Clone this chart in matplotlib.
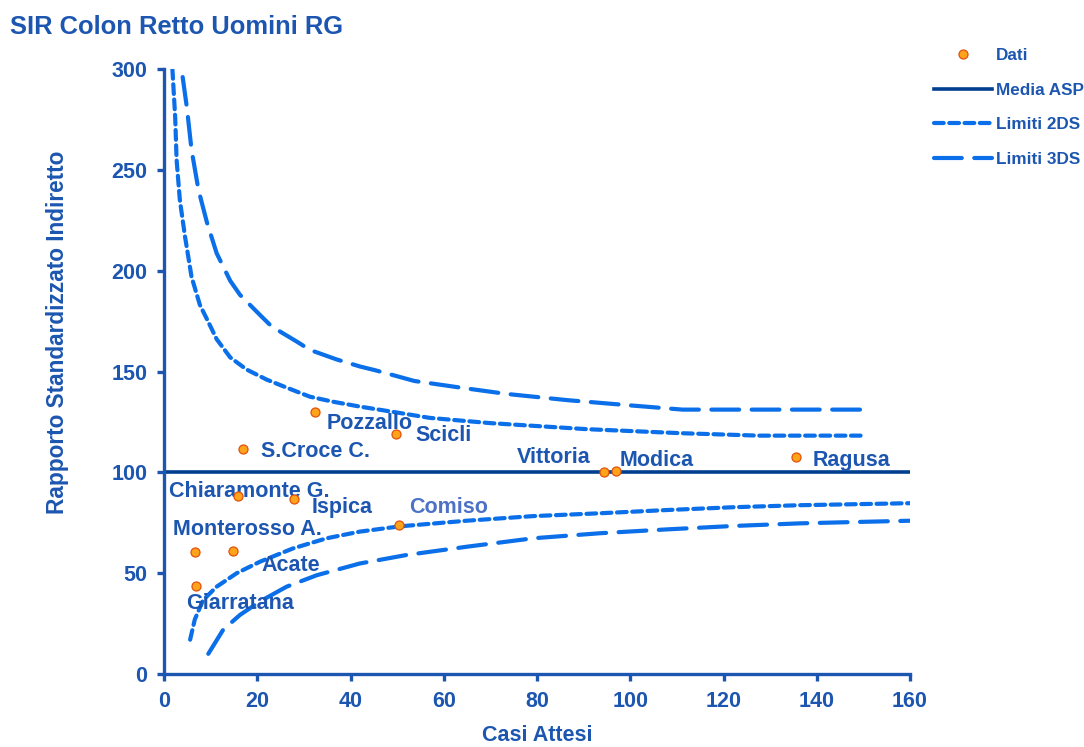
import matplotlib.pyplot as plt
from matplotlib.lines import Line2D

plt.rcParams['font.family'] = ['Liberation Sans', 'DejaVu Sans']
plt.rcParams['lines.scale_dashes'] = False

# comuni: casi attesi e SIR
comuni = ["Pozzallo", "Scicli", "S.Croce C.", "Vittoria", "Modica", "Ragusa",
          "Chiaramonte G.", "Ispica", "Comiso", "Monterosso A.", "Acate", "Giarratana"]
attesi = [32.4, 49.8, 16.9, 94.4, 96.9, 135.5, 15.9, 27.9, 50.4, 6.6, 14.8, 6.9]
sir = [129.9, 119.0, 111.6, 100.2, 100.7, 107.6, 88.3, 86.8, 73.9, 60.5, 61.0, 43.6]

media_asp = 100

# limiti
up2_x = [1.8, 2.4, 2.7, 3.4, 4.5, 5.9, 7.7, 9.2, 11.3, 14.2, 17.7, 22, 26.3, 31.3, 36.3,
         42, 49.6, 57, 70, 90.7, 111, 127.6, 149.4]
up2_y = [300, 276, 255, 235, 217, 197, 183, 176, 166, 157, 151, 146, 142, 137.5, 135,
         132.6, 129.8, 127, 124.4, 121.4, 119.4, 118.2, 118.2]
up3_x = [4.0, 4.9, 5.9, 7.4, 9.2, 11.3, 14.2, 16.3, 20.6, 23.1, 28.5, 31.3, 37, 42, 45.5,
         53.7, 63.6, 73.4, 86.5, 100.5, 111.2, 150.6]
up3_y = [296, 281, 260, 240, 224, 208.6, 195, 188, 178, 172.3, 164.8, 160.7, 156, 152.5,
         150.5, 145.3, 142, 138.9, 135.8, 133.1, 131.1, 131.1]
lo2_x = [5.6, 6.6, 8.4, 11.3, 15.6, 20.6, 27.7, 34.9, 42, 50.5, 64.9, 79.2, 93.5, 107.8,
         122.1, 136.4, 150.7, 160]
lo2_y = [17, 27, 36.7, 43.3, 50, 55.7, 62.3, 67.3, 70.6, 73.2, 76, 78.3, 79.7, 81.3,
         82.7, 83.7, 84.3, 84.7]
lo3_x = [9.5, 12.7, 16.3, 20.6, 26.3, 32.8, 42, 52, 64.9, 79.2, 93.5, 107.8, 122.1,
         136.4, 150.7, 160]
lo3_y = [10, 22, 29.3, 36, 43.3, 49, 54.8, 59, 63.1, 67.3, 69.8, 71.7, 73.4, 74.7, 75.5, 76]

# posizione etichette (offset in pixel verso destra / verso il basso, allineamento)
offs = {
    "Pozzallo": (12, 11, "left"),
    "Scicli": (19, 1, "left"),
    "S.Croce C.": (18, 3, "left"),
    "Vittoria": (-14, -14, "right"),
    "Modica": (4, -10, "left"),
    "Ragusa": (17, 3, "left"),
    "Chiaramonte G.": (-69, -4, "left"),
    "Ispica": (18, 9, "left"),
    "Comiso": (10, -17, "left"),
    "Monterosso A.": (-22, -22, "left"),
    "Acate": (28, 15, "left"),
    "Giarratana": (-10, 17, "left"),
}

blu = "#1c56b0"
blu_curve = "#0a6fe8"
navy = "#003f8f"

fig = plt.figure(figsize=(10.84, 7.47), dpi=100)
ax = fig.add_axes([164 / 1084, 73 / 747, 746 / 1084, 605 / 747])

ax.plot(up2_x, up2_y, color=blu_curve, lw=3, dashes=(7, 4), dash_capstyle='round')
ax.plot(lo2_x, lo2_y, color=blu_curve, lw=3, dashes=(7, 4), dash_capstyle='round')
ax.plot(up3_x, up3_y, color=blu_curve, lw=3, dashes=(20, 9), dash_capstyle='round')
ax.plot(lo3_x, lo3_y, color=blu_curve, lw=3, dashes=(20, 9), dash_capstyle='round')
ax.plot([0, 160], [media_asp, media_asp], color=navy, lw=2.6, solid_capstyle='butt')
ax.plot(attesi, sir, 'o', ls='none', color='#ffa31a', mec='#e0520c', mew=0.9, ms=6.5, zorder=5)

for nome, x, y in zip(comuni, attesi, sir):
    dx, dy, ha = offs[nome]
    c = "#4d72c5" if nome == "Comiso" else blu
    ax.annotate(nome, (x, y), xytext=(dx, -dy), textcoords='offset pixels',
                ha=ha, va='center', fontsize=15.5, fontweight='bold', color=c)

ax.set_xlim(0, 160)
ax.set_ylim(0, 300)
ax.set_xticks(range(0, 161, 20))
ax.set_yticks(range(0, 301, 50))
for s in ['top', 'right']:
    ax.spines[s].set_visible(False)
for s in ['left', 'bottom']:
    ax.spines[s].set_color(blu)
    ax.spines[s].set_linewidth(2.4)
ax.tick_params(colors=blu, width=2.4, length=5, labelsize=15.5, pad=7)
for lab in ax.get_xticklabels() + ax.get_yticklabels():
    lab.set_fontweight('bold')

ax.set_xlabel("Casi Attesi", fontsize=15.5, fontweight='bold', color=blu)
ax.xaxis.set_label_coords(0.5, -0.085)
ax.set_ylabel("Rapporto Standardizzato Indiretto", fontsize=16.3, fontweight='bold', color=blu)
ax.yaxis.set_label_coords(-0.127, 0.565)

fig.text(10 / 1084, 1 - 27 / 747, "SIR Colon Retto Uomini RG", fontsize=18.4, fontweight='bold',
         color=blu, ha='left', va='center')

handles = [
    Line2D([], [], marker='o', ls='none', color='#ffa31a', mec='#e0520c', mew=0.9, ms=6.5),
    Line2D([], [], color=navy, lw=2.6),
    Line2D([], [], color=blu_curve, lw=3, dashes=(7, 4), dash_capstyle='round'),
    Line2D([], [], color=blu_curve, lw=3, dashes=(20, 9), dash_capstyle='round'),
]
leg = fig.legend(handles, ["Dati", "Media ASP", "Limiti 2DS", "Limiti 3DS"],
                 loc='upper left', bbox_to_anchor=(934 / 1084, 1 - 48 / 747),
                 frameon=False, borderpad=0, borderaxespad=0, handlelength=3.4,
                 handletextpad=0.25, labelspacing=1.15, prop={'size': 12.3, 'weight': 'bold'})
for t in leg.get_texts():
    t.set_color(blu)

fig.savefig("out.png", dpi=100)
